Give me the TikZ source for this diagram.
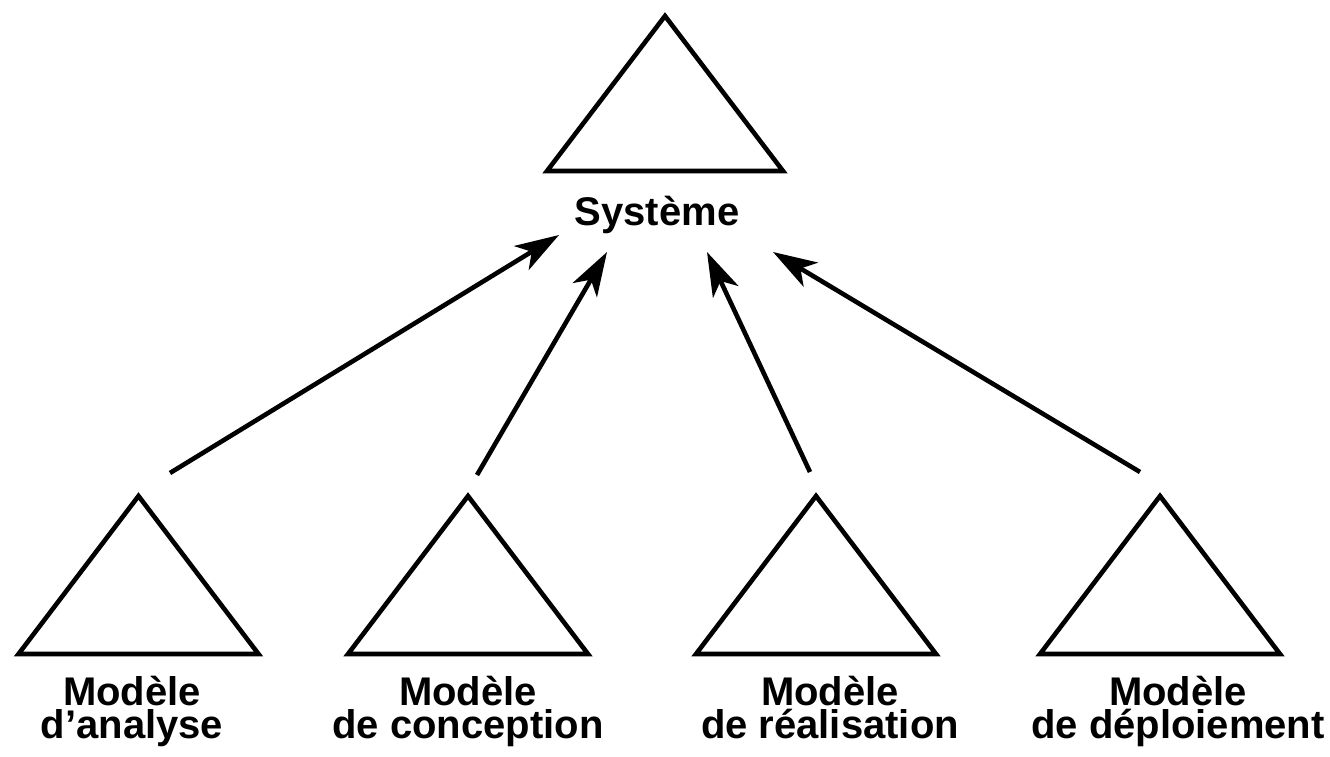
\documentclass[tikz,border=0pt]{standalone}
\usepackage{fontspec}
\setmainfont{Liberation Sans}
\usetikzlibrary{arrows.meta}
\begin{document}
\begin{tikzpicture}[x=1pt,y=-1pt,
  tri/.style={line width=4.6pt,line join=miter},
  lbl/.style={font=\fontsize{40}{33}\selectfont\bfseries,align=center,anchor=base,inner sep=0pt},
  arr/.style={line width=4.6pt,-{Stealth[length=44pt,width=28pt,inset=12pt]}}]
\useasboundingbox (0,0) rectangle (1330,756);
% triangles
\draw[tri] (665,16) -- (783,171) -- (547,171) -- cycle;
\draw[tri] (138.5,496) -- (258.5,654) -- (18.5,654) -- cycle;
\draw[tri] (468,496) -- (588,654) -- (348,654) -- cycle;
\draw[tri] (816,496) -- (936,654) -- (696,654) -- cycle;
\draw[tri] (1160,496) -- (1280,654) -- (1040,654) -- cycle;
% labels
\node[lbl] (sys) at (657,225) {Système};
\node[lbl] (ma) at (132,738) {Modèle\\d’analyse};
\node[lbl] (mc) at (468,738) {Modèle\\de conception};
\node[lbl] (mr) at (830,738) {Modèle\\de réalisation};
\node[lbl] (md) at (1178,738) {Modèle\\de déploiement};
% connector ends
\coordinate (s1) at (170,473);
\coordinate (e1) at (559,235);
\coordinate (s2) at (477,475);
\coordinate (e2) at (607,252);
\coordinate (s3) at (810,472);
\coordinate (e3) at (707,252);
\coordinate (s4) at (1140,472);
\coordinate (e4) at (773,252);
\draw[arr] (s1) -- (e1);
\draw[arr] (s2) -- (e2);
\draw[arr] (s3) -- (e3);
\draw[arr] (s4) -- (e4);
\end{tikzpicture}
\end{document}
